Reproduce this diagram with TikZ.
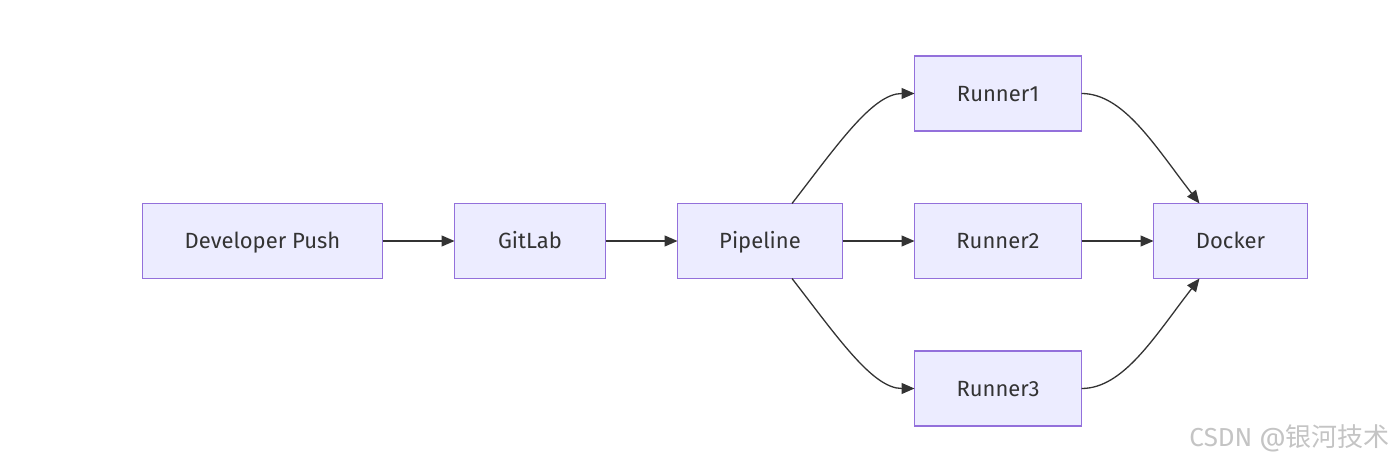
\documentclass[tikz,border=0pt]{standalone}
\usepackage{fontspec}
\setmainfont{Fira Sans}
\newfontfamily\cjkfont{Noto Sans CJK SC}
\definecolor{NodeFill}{HTML}{ECECFF}
\definecolor{NodeLine}{HTML}{9370DB}
\definecolor{EdgeColor}{HTML}{333333}
\definecolor{MarkColor}{HTML}{C4C4C4}
\usetikzlibrary{arrows.meta, positioning}
\tikzset{
    box/.style={
        draw=NodeLine,
        fill=NodeFill,
        line width=1.2pt,
        minimum height=75pt,
        inner sep=0pt,
        outer sep=0pt,
        text height=15pt,
        text depth=0pt,
        align=center,
        text=EdgeColor,
        font=\fontsize{22pt}{26pt}\selectfont
    },
    arrow/.style={-{Triangle[length=13pt,width=11pt]}, line width=1.3pt, draw=EdgeColor}
}

\begin{document}
\begin{tikzpicture}[x=1pt, y=1pt, node distance=72.5pt and 72pt]
    \useasboundingbox (0,0) rectangle (1394,-460);
    % Nodes
    \node[box, minimum width=240pt] (dev) at (262.5,-241) {Developer Push};
    \node[box, minimum width=151pt, right=of dev] (gitlab) {GitLab};
    \node[box, minimum width=165pt, right=of gitlab] (pipe) {Pipeline};
    \node[box, minimum width=167pt, right=of pipe] (run2) {Runner2};
    \node[box, minimum width=167pt, above=of run2] (run1) {Runner1};
    \node[box, minimum width=167pt, below=of run2] (run3) {Runner3};
    \node[box, minimum width=154pt, right=of run2] (docker) {Docker};
    \node[anchor=base east, inner sep=0pt, text=MarkColor, font=\fontsize{26pt}{30pt}\selectfont] (mark) at (1390,-446) {CSDN @\cjkfont 银河技术};

    % Arrows
    \draw[arrow] (dev) -- (gitlab);
    \draw[arrow] (gitlab) -- (pipe);
    \draw[arrow] (pipe) -- (run2);
    \draw[arrow] (run2) -- (docker);
    \draw[arrow] ([xshift=32pt]pipe.north) .. controls +(45,58) and +(-42,0) .. (run1.west);
    \draw[arrow] ([xshift=32pt]pipe.south) .. controls +(45,-58) and +(-42,0) .. (run3.west);
    \draw[arrow] (run1.east) .. controls +(42,0) and +(-45,58) .. ([xshift=-31pt]docker.north);
    \draw[arrow] (run3.east) .. controls +(42,0) and +(-45,-58) .. ([xshift=-31pt]docker.south);
\end{tikzpicture}
\end{document}
